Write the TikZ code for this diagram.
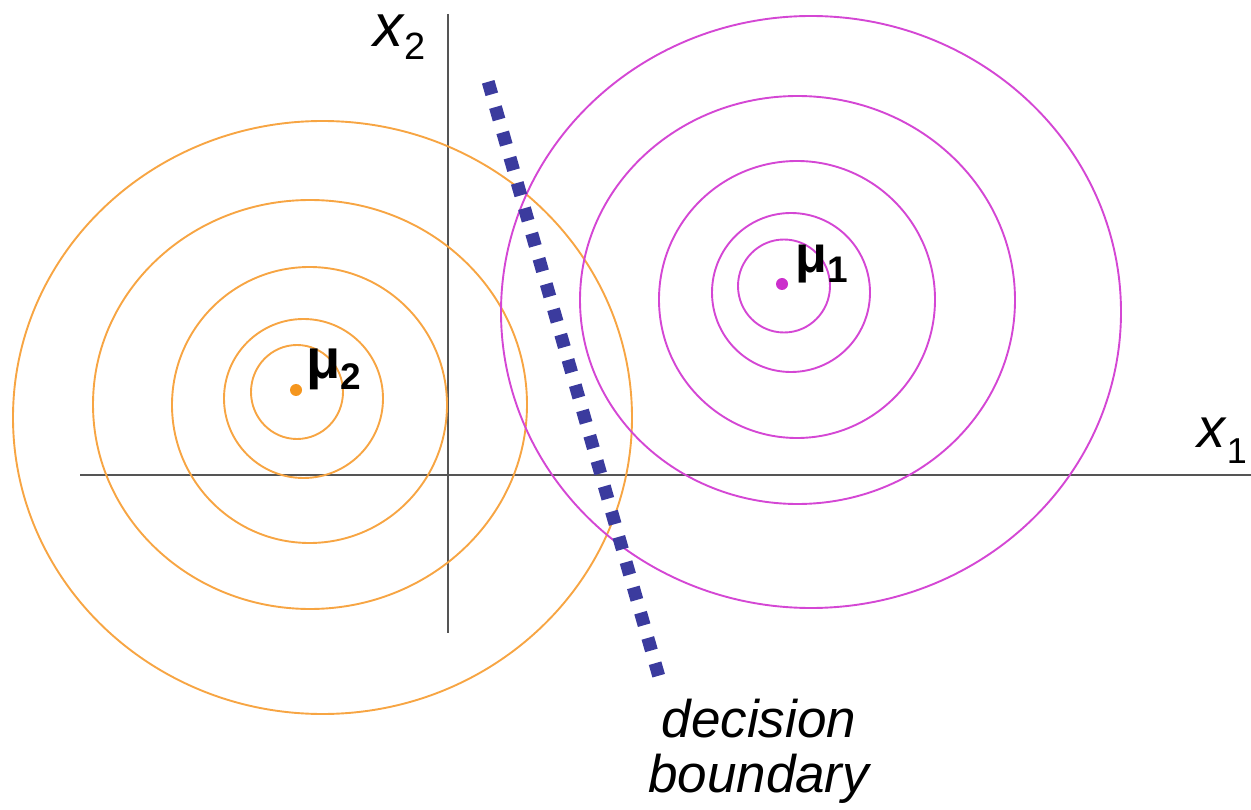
\documentclass[tikz,border=0pt]{standalone}
\usepackage{fontspec}
\setmainfont{Liberation Sans}
\definecolor{orangec}{HTML}{F7A543}
\definecolor{orangedot}{HTML}{F5961E}
\definecolor{magc}{HTML}{D447D4}
\definecolor{magdot}{HTML}{CC2FCC}
\definecolor{boundc}{HTML}{3B3B9E}
\definecolor{axisc}{HTML}{555555}
\begin{document}
\begin{tikzpicture}[x=1pt,y=-1pt,
  axisline/.style={axisc,line width=2pt},
  orangeell/.style={orangec,line width=1.9pt},
  magell/.style={magc,line width=1.9pt},
  boundline/.style={boundc,line width=13pt,dash pattern=on 13pt off 13.3pt},
  lbl/.style={inner sep=0pt,text=black}]
\useasboundingbox (0,0) rectangle (1251,810);
% axes
\coordinate (h1) at (80,475);
\coordinate (h2) at (1251,475);
\coordinate (v1) at (448,14);
\coordinate (v2) at (448,633);
\draw[axisline] (h1) -- (h2);
\draw[axisline] (v1) -- (v2);
% orange contours (class 2)
\draw[orangeell] (297,392) ellipse [x radius=46,y radius=47];
\draw[orangeell] (303.5,398.5) ellipse [x radius=79.5,y radius=79.5];
\draw[orangeell] (309.5,405) ellipse [x radius=137.5,y radius=138];
\draw[orangeell] (310,404.5) ellipse [x radius=217,y radius=204.5];
\draw[orangeell] (322.5,417.5) ellipse [x radius=309.5,y radius=296.5];
% magenta contours (class 1)
\draw[magell] (784,286) ellipse [x radius=46,y radius=46.5];
\draw[magell] (791,292.5) ellipse [x radius=79,y radius=79.5];
\draw[magell] (797,299.5) ellipse [x radius=138,y radius=138.5];
\draw[magell] (797.5,300) ellipse [x radius=217.5,y radius=204];
\draw[magell] (811,312) ellipse [x radius=310,y radius=296];
% means
\fill[orangedot] (296,390) circle [radius=6];
\fill[magdot] (782,284) circle [radius=6];
% decision boundary
\coordinate (b1) at (488.2,81.8);
\coordinate (b2) at (658.8,676.2);
\draw[boundline] (b1) -- (b2);
% labels
\node[lbl,anchor=base west] (xtwo) at (373,47) {\fontsize{60}{60}\selectfont\textit{x}\raisebox{-13pt}{\fontsize{38}{38}\selectfont 2}};
\node[lbl,anchor=base west] (xone) at (1197,447) {\fontsize{56}{56}\selectfont\textit{x}\raisebox{-16pt}{\fontsize{36}{36}\selectfont 1}};
\node[lbl,anchor=base west] (mutwo) at (306,378) {\fontsize{56}{56}\selectfont\textbf{μ}\raisebox{-11pt}{\fontsize{37}{37}\selectfont\textbf{2}}};
\node[lbl,anchor=base west] (muone) at (795,273) {\fontsize{52}{52}\selectfont\textbf{μ}\raisebox{-10pt}{\fontsize{37}{37}\selectfont\textbf{1}}};
\node[lbl,anchor=base] (dec1) at (759,737) {\fontsize{53}{53}\selectfont\textit{decision}};
\node[lbl,anchor=base] (dec2) at (760,792) {\fontsize{53}{53}\selectfont\textit{boundary}};
\end{tikzpicture}
\end{document}
